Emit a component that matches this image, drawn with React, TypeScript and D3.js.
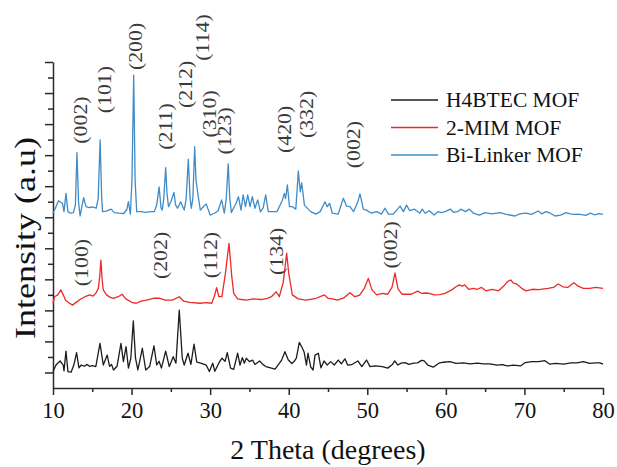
import React, { useEffect, useRef } from 'react';
import * as d3 from 'd3';

// XRD patterns: [2theta, stacked intensity (a.u.)]
const h4btecMof: [number, number][] = [
  [10.0, 0.3], [10.4, 2.5], [10.9, 3.7], [11.3, 2.4], [11.4, 0.5], [11.65, 6.9], [11.9, 0.3],
  [12.3, 0.1], [12.65, 2.4], [13.0, 6.4], [13.3, 1.5], [13.6, 2.4], [14.0, 2.0], [14.3, 2.6],
  [14.65, 2.0], [15.0, 2.2], [15.45, 1.9], [15.98, 9.4], [16.4, 2.4], [16.9, 5.6], [17.2, 2.0],
  [17.45, 2.6], [17.7, 0.8], [18.15, 2.0], [18.65, 9.4], [18.96, 3.5], [19.3, 8.3], [19.6, 1.4],
  [19.9, 4.5], [20.22, 16.6], [20.5, 4.6], [20.8, 0.8], [21.37, 7.8], [21.8, 0.8], [22.3, 1.9],
  [22.85, 8.6], [23.2, 2.4], [23.5, 3.6], [23.8, 1.4], [24.34, 6.9], [24.8, 1.9], [25.3, 5.1],
  [25.65, 3.0], [26.07, 20.1], [26.45, 4.6], [26.7, 2.4], [27.18, 6.2], [27.55, 2.6], [27.95, 9.1],
  [28.3, 3.3], [28.9, 2.9], [29.5, 2.4], [29.9, 0.3], [30.33, 3.0], [30.6, 0.4], [31.1, 3.0],
  [31.5, 4.6], [31.9, 3.6], [32.18, 6.4], [32.6, 1.4], [33.0, 1.0], [33.5, 6.2], [33.8, 2.4],
  [34.1, 4.8], [34.35, 3.0], [34.6, 4.6], [35.0, 3.5], [35.4, 4.0], [35.7, 2.6], [36.3, 3.7],
  [36.7, 2.6], [37.1, 1.9], [38.26, 1.1], [39.1, 4.0], [39.52, 6.7], [39.95, 4.0], [40.4, 2.9],
  [40.7, 3.6], [40.97, 4.6], [41.35, 9.7], [41.65, 8.3], [41.95, 6.7], [42.26, 2.4], [42.45, 6.2],
  [42.8, 1.8], [43.1, 0.8], [43.35, 5.6], [43.77, 6.2], [44.1, 1.5], [44.5, 3.7], [44.9, 2.4],
  [45.35, 3.5], [45.8, 2.4], [46.3, 4.0], [46.7, 2.8], [47.15, 4.4], [47.5, 2.4], [48.0, 2.5],
  [48.8, 3.7], [49.3, 1.9], [49.9, 4.0], [50.35, 1.9], [51.0, 2.1], [51.9, 1.9], [52.6, 1.4],
  [53.2, 2.6], [53.5, 3.7], [53.9, 2.4], [54.3, 3.0], [54.8, 3.2], [55.3, 2.6], [55.9, 3.0],
  [56.4, 3.1], [56.9, 3.9], [57.2, 3.8], [57.7, 2.4], [58.4, 1.7], [59.1, 3.0], [59.7, 3.3],
  [60.5, 3.5], [61.3, 2.9], [62.2, 3.1], [63.1, 2.8], [64.0, 3.0], [64.8, 2.8], [65.6, 2.8],
  [66.5, 2.4], [67.2, 2.5], [67.8, 2.1], [68.6, 2.4], [69.5, 2.1], [70.1, 3.2], [70.97, 3.5],
  [71.8, 3.5], [72.6, 3.8], [73.2, 2.7], [74.0, 2.9], [75.0, 2.7], [75.9, 3.1], [76.7, 3.1],
  [77.5, 3.5], [78.3, 2.9], [79.0, 3.1], [79.6, 3.1], [80.0, 2.7],
];

const mimMof: [number, number][] = [
  [10.0, 22.3], [10.2, 24.4], [10.6, 25.0], [11.0, 26.6], [11.3, 25.0], [11.6, 23.3], [12.1, 22.3],
  [12.5, 21.7], [12.9, 22.5], [13.3, 23.3], [14.07, 24.4], [14.7, 25.0], [15.1, 24.6], [15.45, 25.5],
  [15.77, 27.1], [15.95, 31], [16.1, 36.2], [16.25, 30], [16.4, 26.6], [16.8, 25.0], [17.3, 24.2],
  [17.7, 23.9], [18.3, 24.4], [18.8, 25.2], [19.26, 23.7], [20.0, 22.6], [20.6, 22.3], [21.2, 23.0],
  [21.9, 23.3], [22.77, 23.9], [23.6, 23.9], [24.3, 23.3], [25.2, 23.3], [26.07, 24.4], [26.6, 23.0],
  [27.4, 22.6], [28.7, 22.3], [29.5, 22.5], [30.2, 22.3], [30.5, 24.3], [30.83, 27.3], [31.1, 24.4],
  [31.5, 24.4], [31.95, 32], [32.4, 41.6], [32.75, 31], [33.0, 25.5], [33.5, 23.7], [34.0, 23.5],
  [34.6, 23.3], [35.5, 23.7], [36.5, 23.5], [37.3, 23.9], [37.8, 24.4], [38.4, 26.0], [38.8, 24.4],
  [39.3, 29], [39.74, 38.4], [40.0, 32], [40.46, 25.0], [41.2, 23.7], [42.2, 23.3], [43.5, 23.9],
  [44.53, 25.0], [45.0, 23.9], [45.6, 23.7], [46.2, 23.3], [47.0, 24.0], [47.8, 25.7], [48.4, 24.4],
  [49.0, 24.8], [49.6, 27.0], [50.13, 30.3], [50.6, 26.6], [51.2, 25.0], [51.9, 25.5], [52.6, 25.2],
  [53.15, 27.5], [53.53, 32.1], [53.9, 27.0], [54.4, 25.2], [55.0, 25.2], [55.6, 25.2], [56.4, 26.2],
  [56.9, 25.5], [57.5, 25.6], [58.0, 25.4], [58.5, 25.0], [59.2, 25.1], [59.9, 25.5], [60.75, 26.6],
  [61.3, 27.6], [61.7, 28.2], [62.1, 27.8], [62.4, 28.2], [62.9, 26.8], [63.5, 27.1], [64.0, 26.8],
  [64.55, 27.4], [65.1, 26.3], [65.9, 26.8], [66.7, 26.3], [67.4, 27.9], [67.8, 29.2], [68.26, 29.8],
  [68.6, 28.8], [69.0, 28.5], [69.65, 27.1], [70.2, 26.3], [71.0, 26.8], [71.8, 26.7], [73.0, 27.1],
  [73.7, 27.4], [74.3, 28.5], [74.9, 27.6], [75.5, 27.4], [76.3, 28.9], [76.9, 27.7], [77.5, 27.1],
  [78.3, 27.1], [79.1, 27.4], [80.0, 27.1],
];

const biLinkerMof: [number, number][] = [
  [10.0, 51.3], [10.4, 53.5], [10.7, 55.3], [11.2, 54.5], [11.4, 51.8], [11.65, 57.7], [11.9, 51.8],
  [12.2, 51.3], [12.6, 51.5], [12.85, 54], [13.05, 70.8], [13.25, 55], [13.45, 50.4], [13.9, 56.3],
  [14.2, 53.4], [14.6, 53.1], [15.0, 53.3], [15.5, 52.9], [15.75, 56], [16.0, 74.9], [16.2, 56],
  [16.3, 51.8], [16.8, 52.0], [17.4, 52.6], [17.8, 51.5], [18.4, 51.3], [19.0, 51.2], [19.4, 52.5],
  [19.6, 55.0], [19.85, 51.0], [20.05, 62], [20.27, 95.8], [20.45, 62], [20.65, 51.8], [21.2, 51.8],
  [21.8, 51.6], [22.4, 51.8], [22.9, 51.8], [23.2, 54], [23.5, 59.8], [23.75, 53], [23.9, 52.3],
  [24.1, 56], [24.34, 66.0], [24.5, 58], [24.7, 53.4], [25.0, 55], [25.4, 58.0], [25.6, 54],
  [25.85, 52.9], [26.25, 55.0], [26.7, 52.3], [26.95, 56], [27.22, 68.7], [27.45, 56], [27.6, 52.9],
  [27.8, 56], [28.03, 72.7], [28.2, 62], [28.4, 58.2], [28.75, 52.3], [29.1, 53.3], [29.5, 54.3],
  [30.0, 50.7], [30.5, 51.2], [31.0, 52], [31.46, 55.6], [31.8, 51.3], [32.05, 56], [32.3, 67.2],
  [32.5, 56], [32.7, 51.5], [33.3, 54.5], [33.6, 56.6], [33.93, 52.3], [34.2, 57.2], [34.5, 53.4],
  [34.78, 57.2], [35.07, 53.4], [35.37, 56.6], [35.7, 52.9], [36.05, 55.6], [36.4, 51.7], [36.75, 53],
  [37.07, 57.2], [37.4, 51.8], [37.8, 51.8], [38.5, 51.8], [38.8, 53.4], [39.2, 55.5], [39.44, 57.7],
  [39.6, 56], [39.83, 60.4], [40.1, 53.4], [40.5, 53.4], [40.9, 52.6], [41.05, 58], [41.22, 64.9],
  [41.47, 58.2], [41.65, 61.1], [42.0, 53.9], [42.3, 53.1], [42.8, 51.8], [43.45, 51.0], [44.0, 51.8],
  [44.62, 55.0], [44.9, 53.4], [45.2, 54.5], [45.55, 51.3], [46.3, 51.0], [46.95, 56.1], [47.35, 53.6],
  [47.8, 53.4], [48.25, 51.8], [48.8, 55], [49.07, 57.5], [49.5, 52.6], [49.9, 52.3], [50.5, 51.3],
  [51.2, 51.8], [51.8, 51.0], [52.25, 52.9], [52.7, 51.0], [53.3, 51.0], [54.17, 53.6], [54.6, 51.8],
  [55.0, 53.9], [55.4, 52.1], [56.0, 52.6], [56.7, 51.3], [57.0, 52.6], [57.35, 51.3], [57.9, 52.1],
  [58.5, 50.7], [59.0, 51.8], [59.4, 51.5], [59.9, 51.8], [60.6, 52.6], [60.95, 51.6], [61.5, 51.8],
  [61.9, 52.6], [62.5, 51.8], [63.0, 52.6], [63.5, 51.3], [64.26, 50.7], [65.0, 51.5], [65.8, 51.1],
  [66.9, 51.5], [67.7, 50.9], [68.8, 50.4], [69.4, 51.1], [70.2, 51.3], [70.9, 50.9], [71.77, 52.0],
  [72.2, 51.1], [72.75, 51.8], [73.3, 51.3], [73.9, 50.4], [74.6, 50.7], [75.3, 51.5], [75.8, 51.1],
  [76.3, 50.9], [76.9, 51.0], [77.8, 50.6], [78.4, 51.3], [78.9, 50.8], [79.5, 51.2], [80.0, 50.9],
];

const seriesNames = ['H4BTEC MOF', '2-MIM MOF', 'Bi-Linker MOF'];
const seriesColors = ['#1c1c1c', '#ec2a2a', '#3f8cc8'];

// Miller-index annotations: label, 2theta, height (a.u.)
const peakLabels = ['(002)', '(101)', '(200)', '(211)', '(212)', '(114)', '(310)', '(123)', '(420)', '(332)', '(002)',
  '(100)', '(202)', '(112)', '(134)', '(002)'];
const peakTheta = [13.44, 16.49, 20.44, 24.25, 26.8, 28.96, 29.85, 31.76, 39.4, 42.2, 48.18,
  13.56, 23.62, 29.98, 38.38, 52.89];
const peakHeight = [81.3, 91.1, 105.0, 79.2, 92.8, 107.9, 83.3, 77.8, 78.3, 83.1, 73.4,
  35.4, 37.7, 37.8, 39.0, 41.1];

const xMajor = [10, 20, 30, 40, 50, 60, 70, 80];
const xMinor = [15, 25, 35, 45, 55, 65, 75];
const yMajor = [0, 10, 20, 30, 40, 50, 60, 70, 80, 90, 100];
const yMinor = [5, 15, 25, 35, 45, 55, 65, 75, 85, 95];

const FONT = '"Liberation Serif", "Times New Roman", serif';

const XrdChart = () => {
  const ref = useRef<SVGSVGElement>(null);

  useEffect(() => {
    const svg = d3.select(ref.current);
    svg.selectAll('*').remove();

    const width = 617;
    const height = 467;
    const margin = { top: 62, right: 14, bottom: 79, left: 53 };

    const x = d3.scaleLinear().domain([10, 80]).range([margin.left, width - margin.right]);
    const y = d3.scaleLinear().domain([-5, 100]).range([height - margin.bottom, margin.top]);

    const axisColor = '#2a2a2a';

    // x axis: minor ticks first, then major ticks with labels
    svg.append('g')
      .attr('transform', `translate(0,${height - margin.bottom})`)
      .call(d3.axisBottom(x).tickValues(xMinor).tickSize(4).tickSizeOuter(0).tickFormat(() => ''))
      .call(g => g.select('.domain').remove());
    const gx = svg.append('g')
      .attr('transform', `translate(0,${height - margin.bottom})`)
      .call(d3.axisBottom(x).tickValues(xMajor).tickSize(7).tickSizeOuter(0).tickPadding(7));
    gx.selectAll('text')
      .style('font-family', FONT)
      .style('font-size', '22.5px')
      .attr('fill', '#111');

    // y axis, no labels
    svg.append('g')
      .attr('transform', `translate(${margin.left},0)`)
      .call(d3.axisLeft(y).tickValues(yMinor).tickSize(5).tickSizeOuter(0).tickFormat(() => ''))
      .call(g => g.select('.domain').remove());
    svg.append('g')
      .attr('transform', `translate(${margin.left},0)`)
      .call(d3.axisLeft(y).tickValues(yMajor).tickSize(8).tickSizeOuter(0).tickFormat(() => ''));

    svg.selectAll('.domain, .tick line')
      .attr('stroke', axisColor)
      .attr('stroke-width', 1.5);

    // patterns
    const line = d3.line<[number, number]>()
      .x(d => x(d[0]))
      .y(d => y(d[1]))
      .curve(d3.curveLinear);

    [h4btecMof, mimMof, biLinkerMof].forEach((s, i) => {
      svg.append('path')
        .datum(s)
        .attr('d', line)
        .attr('fill', 'none')
        .attr('stroke', seriesColors[i])
        .attr('stroke-width', 1.3)
        .attr('stroke-linejoin', 'round');
    });

    // peak annotations (slightly stretched along the text, as in the figure)
    svg.selectAll('.peak')
      .data(peakLabels)
      .enter().append('text')
      .attr('class', 'peak')
      .attr('transform', (d, i) => `translate(${x(peakTheta[i])},${y(peakHeight[i])}) rotate(-90) scale(1.12,1)`)
      .attr('text-anchor', 'middle')
      .attr('dominant-baseline', 'central')
      .style('font-family', FONT)
      .style('font-size', '19.5px')
      .attr('fill', '#3a3a3a')
      .text(d => d);

    // legend
    const legend = svg.append('g');
    seriesNames.forEach((name, i) => {
      const ly = 100 + i * 27.5;
      legend.append('line')
        .attr('x1', 391).attr('x2', 438)
        .attr('y1', ly).attr('y2', ly)
        .attr('stroke', seriesColors[i])
        .attr('stroke-width', 1.5);
      legend.append('text')
        .attr('x', 446).attr('y', ly)
        .attr('dominant-baseline', 'central')
        .style('font-family', FONT)
        .style('font-size', '21.5px')
        .attr('fill', '#111')
        .text(name);
    });

    // axis titles
    svg.append('text')
      .attr('x', (margin.left + width - margin.right) / 2)
      .attr('y', 459)
      .attr('text-anchor', 'middle')
      .style('font-family', FONT)
      .style('font-size', '28px')
      .attr('fill', '#111')
      .text('2 Theta (degrees)');

    svg.append('text')
      .attr('transform', 'translate(24,238) rotate(-90)')
      .attr('text-anchor', 'middle')
      .attr('dominant-baseline', 'central')
      .attr('textLength', 202)
      .attr('lengthAdjust', 'spacingAndGlyphs')
      .style('font-family', FONT)
      .style('font-size', '30px')
      .attr('fill', '#111')
      .text('Intensity (a.u)');
  }, []);

  return (
    <svg ref={ref} width="617" height="467"
      style={{ position: 'absolute', left: 0, top: 0, background: '#fff' }}></svg>
  );
};

export default function App() {
  return <XrdChart />;
}
